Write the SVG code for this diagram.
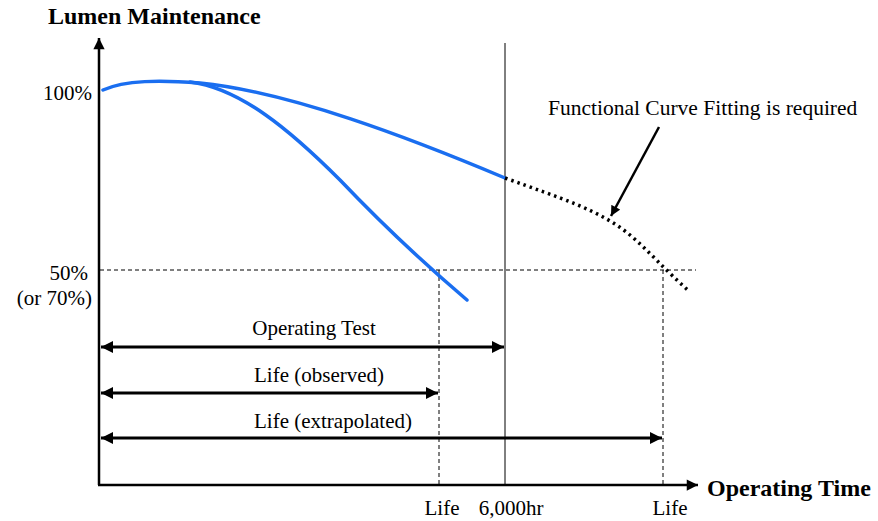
<svg xmlns="http://www.w3.org/2000/svg" width="878" height="521" viewBox="0 0 878 521">
  <style>
    .t { font-family: "Liberation Serif", "Times New Roman", serif; fill: #000; }
    .lbl { font-size: 21px; }
    .bold { font-weight: bold; font-size: 24px; }
    .axis { stroke: #000; stroke-width: 2.5; fill: none; }
    .thin { stroke: #000; stroke-width: 1; fill: none; }
    .dash { stroke: #000; stroke-width: 1; fill: none; stroke-dasharray: 4 3; }
    .span { stroke: #000; stroke-width: 3; fill: none; }
    .curve { stroke: #1a6ef0; stroke-width: 3.5; fill: none; stroke-linecap: round; }
    .dots { stroke: #000; stroke-width: 3.5; fill: none; stroke-dasharray: 2.5 4; }
  </style>
  <defs>
    <marker id="ah" viewBox="0 0 10 10" refX="10" refY="5" markerWidth="4.5" markerHeight="4" orient="auto-start-reverse" markerUnits="strokeWidth">
      <path d="M0,0 L10,5 L0,10 z" fill="#000"/>
    </marker>
    <marker id="axh" viewBox="0 0 10 10" refX="10" refY="5" markerWidth="5" markerHeight="4.5" orient="auto" markerUnits="strokeWidth">
      <path d="M0,0 L10,5 L0,10 z" fill="#000"/>
    </marker>
  </defs>

  <rect width="878" height="521" fill="#fff"/>

  <g id="axes">
    <line class="axis" x1="99" y1="485" x2="99" y2="38" marker-end="url(#axh)"/>
    <line class="axis" x1="98" y1="485" x2="698" y2="485" marker-end="url(#axh)"/>
    <text class="t bold" x="48" y="24">Lumen Maintenance</text>
    <text class="t bold" x="707" y="496">Operating Time</text>
  </g>

  <g id="guides">
    <line class="thin" x1="505" y1="43" x2="505" y2="485"/>
    <line class="dash" x1="100" y1="270" x2="696" y2="270"/>
    <line class="dash" x1="439" y1="270" x2="439" y2="485"/>
    <line class="dash" x1="663" y1="270" x2="663" y2="485"/>
  </g>

  <g id="y-labels">
    <text class="t lbl" x="92" y="100" text-anchor="end">100%</text>
    <text class="t lbl" x="88" y="280" text-anchor="end">50%</text>
    <text class="t lbl" x="92" y="305" text-anchor="end">(or 70%)</text>
  </g>

  <g id="x-labels">
    <text class="t lbl" x="442" y="515" text-anchor="middle">Life</text>
    <text class="t lbl" x="511" y="515" text-anchor="middle">6,000hr</text>
    <text class="t lbl" x="670" y="515" text-anchor="middle">Life</text>
  </g>

  <g id="curves">
    <path class="curve" d="M103,90 C125,80 160,80 200,83 C290,92 410,138 505,178"/>
    <path class="curve" d="M190,82 C240,88 290,130 340,180 C380,222 420,260 467,300"/>
    <path class="dots" d="M505,178 C560,198 600,210 630,235 C650,252 665,270 690,292"/>
  </g>

  <g id="note">
    <text class="t" x="548" y="115" style="font-size:21.5px">Functional Curve Fitting is required</text>
    <line class="span" x1="659" y1="127" x2="611" y2="216" style="stroke-width:2.5" marker-end="url(#ah)"/>
  </g>

  <g id="spans">
    <line class="span" x1="101" y1="347" x2="504" y2="347" marker-start="url(#ah)" marker-end="url(#ah)"/>
    <text class="t lbl" x="314" y="335" text-anchor="middle">Operating Test</text>
    <line class="span" x1="101" y1="393" x2="438" y2="393" marker-start="url(#ah)" marker-end="url(#ah)"/>
    <text class="t lbl" x="319" y="382" text-anchor="middle">Life (observed)</text>
    <line class="span" x1="101" y1="438" x2="662" y2="438" marker-start="url(#ah)" marker-end="url(#ah)"/>
    <text class="t lbl" x="333" y="428" text-anchor="middle">Life (extrapolated)</text>
  </g>
</svg>
